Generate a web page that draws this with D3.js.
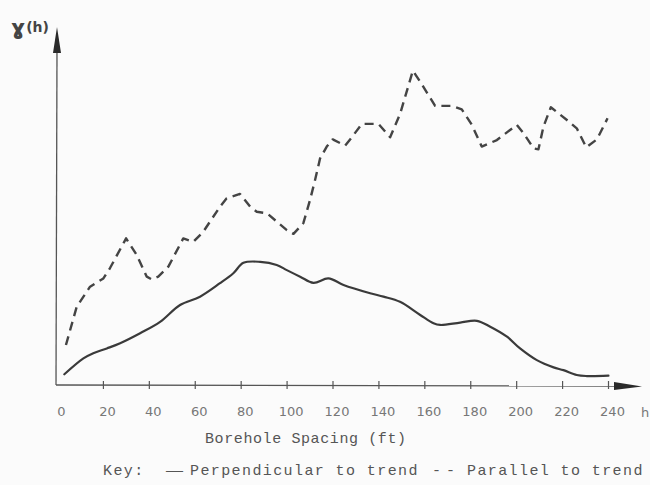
<!DOCTYPE html>
<html>
<head>
<meta charset="utf-8">
<script src="https://cdn.jsdelivr.net/npm/d3@7/dist/d3.min.js"></script>
<style>
  html, body { margin: 0; padding: 0; background: #fbfbfb; }
  svg { display: block; }
</style>
</head>
<body>
<svg id="chart" width="650" height="485"></svg>
<script>
// Borehole spacing (ft) for the perpendicular-to-trend semivariogram
const hPerp = [3.2, 11.5, 15.8, 21.7, 27.5, 36.2, 44.9, 53.6, 62.3, 71.0, 76.8, 81.2, 88.5, 95.7,
  100.1, 105.9, 111.7, 118.2, 124.8, 136.4, 142.2, 149.4, 158.2, 164.0, 166.9, 175.6, 182.9,
  188.7, 196.0, 201.7, 209.0, 216.3, 220.6, 226.4, 230.8, 240.2];
// gamma(h), perpendicular to trend
const gammaPerp = [3.1, 7.7, 9.2, 10.6, 12.1, 15.0, 18.3, 23.2, 25.6, 29.5, 32.4, 35.4, 35.7, 34.8,
  33.3, 31.4, 29.6, 30.9, 29.0, 26.6, 25.6, 24.1, 20.3, 17.9, 17.4, 18.1, 18.6,
  16.9, 14.0, 10.6, 7.2, 5.1, 4.3, 2.9, 2.6, 2.7];

// Borehole spacing (ft) for the parallel-to-trend semivariogram
const hPar = [3.9, 8.6, 14.4, 20.2, 23.1, 30.1, 34.7, 39.1, 41.3, 44.1, 48.5, 55.0, 59.4, 63.7,
  71.0, 73.9, 79.7, 84.1, 87.0, 91.4, 100.1, 103.0, 107.3, 110.2, 112.4, 114.6, 117.5, 120.1,
  125.5, 128.4, 132.8, 140.0, 145.1, 149.5, 155.0, 158.2, 164.7, 172.0, 176.3, 180.7, 185.0,
  191.6, 200.3, 203.2, 207.6, 209.7, 211.9, 215.1, 222.1, 226.4, 230.5, 235.2, 239.8];
// gamma(h), parallel to trend
const gammaPar = [11.6, 22.7, 28.5, 30.9, 33.9, 42.5, 37.7, 31.4, 30.6, 31.4, 34.3, 42.5, 41.5, 44.4,
  51.7, 54.1, 55.4, 51.7, 50.2, 49.8, 44.9, 43.8, 46.9, 53.6, 59.4, 65.7, 69.1, 71.2,
  69.4, 71.8, 75.7, 75.7, 71.8, 78.7, 91.1, 87.9, 80.9, 80.9, 79.9, 75.4, 69.1,
  71.0, 75.4, 73.0, 68.6, 68.3, 74.9, 80.5, 76.8, 74.4, 68.9, 71.2, 77.3];

// Axis ticks
const xTicks = [0, 20, 40, 60, 80, 100, 120, 140, 160, 180, 200, 220, 240];

const svg = d3.select("#chart");
const x = d3.scaleLinear().domain([0, 240]).range([57, 608]);
const y = d3.scaleLinear().domain([0, 100]).range([385, 40]);

const ink = "#3a3a3a";
const axisInk = "#555";

// x axis: ticks crossing the baseline, labels below
const xAxis = d3.axisBottom(x)
  .tickValues(xTicks)
  .tickSizeInner(4)
  .tickSizeOuter(0)
  .tickPadding(0)
  .tickFormat(d3.format("d"));

const gx = svg.append("g")
  .attr("transform", `translate(0,${y(0)})`)
  .call(xAxis);
gx.select(".domain").remove();
gx.selectAll(".tick line")
  .attr("y1", -4).attr("y2", 4)
  .attr("stroke", axisInk).attr("stroke-width", 1.2)
  .filter(d => d === 0).remove();
gx.selectAll(".tick text")
  .attr("y", 22)
  .attr("dx", 4)
  .attr("fill", "#777")
  .style("font-family", "'DejaVu Sans', sans-serif")
  .style("font-size", "13px");

// axis lines with arrowheads
svg.append("line")
  .attr("x1", x(0) - 1).attr("y1", y(0))
  .attr("x2", 620).attr("y2", y(0) + 1)
  .attr("stroke", axisInk).attr("stroke-width", 1.3);
svg.append("path")
  .attr("d", `M642,${y(0) + 1.5} L614,${y(0) - 3} L614,${y(0) + 5} Z`)
  .attr("fill", "#2a2a2a");

svg.append("line")
  .attr("x1", x(0) - 1).attr("y1", y(0))
  .attr("x2", x(0)).attr("y2", 48)
  .attr("stroke", axisInk).attr("stroke-width", 1.3);
svg.append("path")
  .attr("d", `M${x(0)},27 L${x(0) + 4},53 L${x(0) - 4},53 Z`)
  .attr("fill", "#2a2a2a");

// axis titles
const yTitle = svg.append("text")
  .attr("x", 11).attr("y", 35)
  .attr("fill", "#444")
  .style("font-family", "'DejaVu Sans', sans-serif")
  .style("font-weight", "bold");
yTitle.append("tspan").style("font-size", "22px").text("ɣ");
yTitle.append("tspan").attr("dx", 1).attr("dy", -3).style("font-size", "14px").text("(h)");

svg.append("text")
  .attr("x", 645).attr("y", 417)
  .attr("text-anchor", "middle")
  .attr("fill", "#777")
  .style("font-family", "'DejaVu Sans', sans-serif")
  .style("font-size", "13px")
  .text("h");

const mono = "'Liberation Mono', 'DejaVu Sans Mono', monospace";
svg.append("text")
  .attr("x", 205).attr("y", 443)
  .attr("fill", "#555")
  .style("font-family", mono)
  .style("font-size", "15px")
  .style("letter-spacing", "0.6px")
  .text("Borehole Spacing (ft)");

// key
const keyStyle = sel => sel
  .attr("fill", "#555")
  .style("font-family", mono)
  .style("font-size", "15px")
  .style("letter-spacing", "1.4px");
svg.append("text").attr("x", 103).attr("y", 475).call(keyStyle).text("Key:");
svg.append("text").attr("x", 166).attr("y", 475).call(keyStyle).style("letter-spacing", "-1px").text("——");
svg.append("text").attr("x", 190).attr("y", 475).call(keyStyle).text("Perpendicular to trend");
svg.append("text").attr("x", 432).attr("y", 475).call(keyStyle).style("letter-spacing", "-2px").text("- -");
svg.append("text").attr("x", 467).attr("y", 475).call(keyStyle).text("Parallel to trend");

// semivariogram curves
const perpLine = d3.line()
  .x((d, i) => x(hPerp[i]))
  .y(d => y(d))
  .curve(d3.curveCatmullRom.alpha(0.5));
svg.append("path")
  .datum(gammaPerp)
  .attr("d", perpLine)
  .attr("fill", "none")
  .attr("stroke", ink)
  .attr("stroke-width", 2.2)
  .attr("stroke-linejoin", "round")
  .attr("stroke-linecap", "round");

const parLine = d3.line()
  .x((d, i) => x(hPar[i]))
  .y(d => y(d))
  .curve(d3.curveLinear);
svg.append("path")
  .datum(gammaPar)
  .attr("d", parLine)
  .attr("fill", "none")
  .attr("stroke", "#444")
  .attr("stroke-width", 2.4)
  .attr("stroke-dasharray", "9,6")
  .attr("stroke-linejoin", "round");
</script>
</body>
</html>
